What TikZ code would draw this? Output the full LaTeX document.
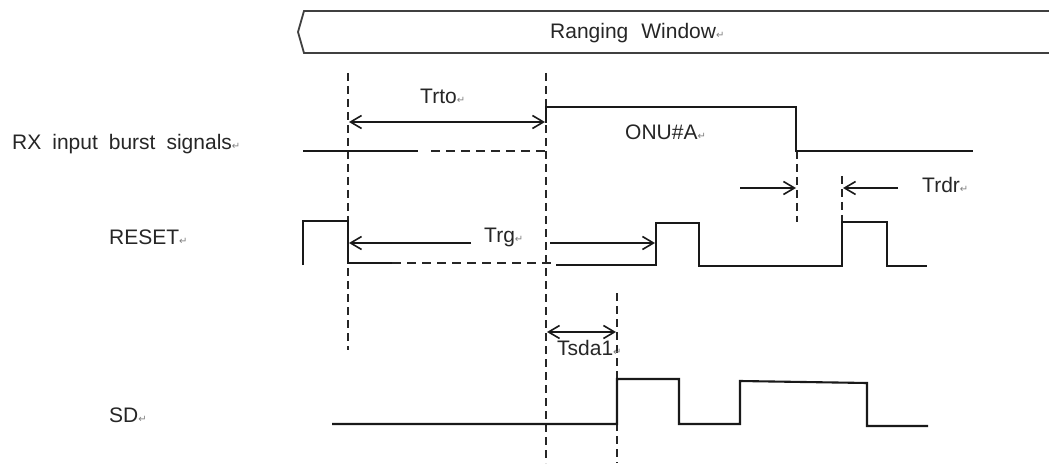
\documentclass[tikz,border=0pt]{standalone}
\usepackage{fontspec}
\setmainfont{Liberation Sans}
\newfontfamily\dvsans{DejaVu Sans}
\usetikzlibrary{arrows.meta}
\newcommand{\parmark}{{\color{gray}\dvsans\fontsize{10}{10}\selectfont ↵}}
\newcommand{\wsp}{\hspace{11pt}}
\begin{document}
\begin{tikzpicture}[x=1pt,y=-1pt,
  lbl/.style={anchor=base west,inner sep=0pt,text=black!85,font=\fontsize{21}{23}\selectfont},
  wave/.style={line width=2.1pt,black!90,line join=miter},
  vdash/.style={line width=2pt,black!85,dash pattern=on 8pt off 5pt},
  hdash/.style={line width=2.1pt,black!85,dash pattern=on 9pt off 6pt},
  dim/.style={line width=1.6pt,black!90,arrows={-Straight Barb[length=11pt,width=13pt,line width=1.6pt]}},
  dimb/.style={line width=1.6pt,black!90,arrows={Straight Barb[length=11pt,width=13pt,line width=1.6pt]-Straight Barb[length=11pt,width=13pt,line width=1.6pt]}}
]
\useasboundingbox (0,0) rectangle (1049,465);
% Ranging window banner
\draw[line width=1.8pt,black!75] (1052,11) -- (304,11) -- (298,32) -- (304,53) -- (1052,53);
\node[lbl] (rw) at (550,39) {Ranging\hspace{13pt}Window\parmark};

% signal labels
\node[lbl] (rx) at (12,150) {RX\wsp input\wsp burst\wsp signals\parmark};
\node[lbl] (rst) at (109,244) {RESET\parmark};
\node[lbl] (sd) at (109,422) {SD\parmark};

% reference dashed verticals
\coordinate (v1t) at (348,73);  \coordinate (v1b) at (348,350);
\coordinate (v2t) at (546,73);  \coordinate (v2b) at (546,463);
\coordinate (v3t) at (797,151); \coordinate (v3b) at (797,222);
\coordinate (v4t) at (842,176); \coordinate (v4b) at (842,222);
\coordinate (v5t) at (617,293); \coordinate (v5b) at (617,463);
\draw[vdash] (v1t) -- (v1b);
\draw[vdash] (v2t) -- (v2b);
\draw[vdash] (v3t) -- (v3b);
\draw[vdash] (v4t) -- (v4b);
\draw[vdash] (v5t) -- (v5b);

% RX input burst signals
\draw[wave] (303,151) -- (418,151);
\draw[hdash] (431,151) -- (546,151);
\draw[wave] (546,123) -- (546,107) -- (796,107) -- (796,151) -- (973,151);
\node[lbl] (onu) at (625,140) {ONU\#A\parmark};

% Trto
\coordinate (trtoL) at (349,122); \coordinate (trtoR) at (545,122);
\draw[dimb] (trtoL) -- (trtoR);
\node[lbl] (trto) at (420,104) {Trto\parmark};

% RESET
\draw[wave] (303,265) -- (303,221) -- (348,221) -- (348,263) -- (392,263);
\draw[hdash] (392,263) -- (553,263);
\draw[wave] (556,265) -- (656,265) -- (656,223) -- (699,223) -- (699,266) -- (842,266) -- (842,222) -- (887,222) -- (887,266) -- (927,266);

% Trg
\coordinate (trgA) at (471,243); \coordinate (trgB) at (349,243);
\coordinate (trgC) at (550,243); \coordinate (trgD) at (655,243);
\draw[dim] (trgA) -- (trgB);
\draw[dim] (trgC) -- (trgD);
\node[lbl] (trg) at (484,242) {Trg\parmark};

% Trdr
\coordinate (trdA) at (740,188); \coordinate (trdB) at (796,188);
\coordinate (trdC) at (898,188); \coordinate (trdD) at (843,188);
\draw[dim] (trdA) -- (trdB);
\draw[dim] (trdC) -- (trdD);
\node[lbl] (trdr) at (922,193) {Trdr\parmark};

% Tsda1
\coordinate (tsL) at (547,332); \coordinate (tsR) at (616,332);
\draw[dimb] (tsL) -- (tsR);
\node[lbl] (tsda) at (557,355) {Tsda1\parmark};

% SD
\draw[wave] (332,424) -- (617,424) -- (617,379) -- (679,379) -- (679,424) -- (740,424) -- (740,381) -- (867,383) -- (867,426) -- (928,426);
\end{tikzpicture}
\end{document}
